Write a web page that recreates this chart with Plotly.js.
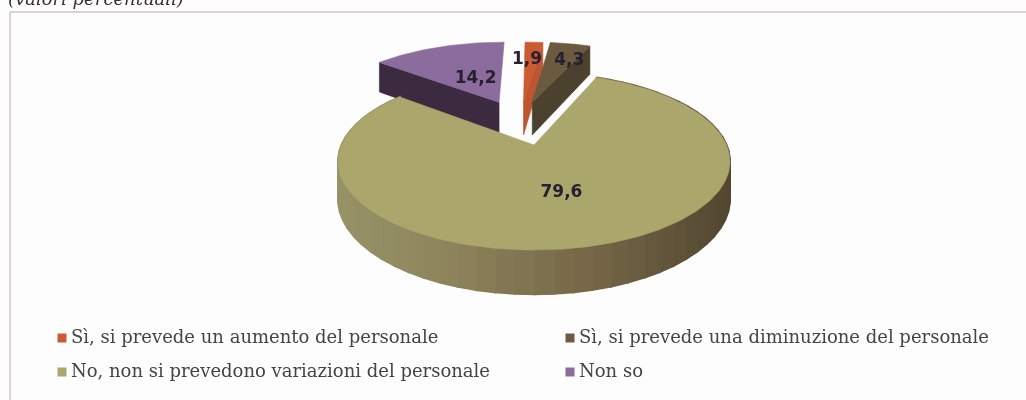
<!DOCTYPE html>
<html><head><meta charset="utf-8">
<script src="https://cdn.plot.ly/plotly-3.0.1.min.js"></script>
<style>html,body{margin:0;padding:0;background:#fdfdfd;overflow:hidden}#c{width:1026px;height:400px;filter:blur(0.5px)}</style>
</head><body><div id="c"></div>
<script>
// Data
const categories = ["Sì, si prevede un aumento del personale","Sì, si prevede una diminuzione del personale","No, non si prevedono variazioni del personale","Non so"];
const values = [1.9, 4.3, 79.6, 14.2];
const valueLabels = ["1,9","4,3","79,6","14,2"];
const subtitle = "(valori percentuali)";
// Style
const faceColors = ["#C95C33","#695A40","#AAA66C","#8C6C9C"];
const wallColors = ["#BC5530","#4C402E","#8E8A5E","#3C2A40"];
const explodeU = [-0.06,-0.01,0,-0.2];
const explodeV = [0.55,0.55,0,0.55];
const labelRadius = [0.68,0.68,0.52,0.40];
const labelShiftX = [-4,10,0,3];
const legendX = [62,570,62,570];
const legendY = [338,338,372,372];
const wallStops = [[340,[150,146,102]],[450,[142,132,92]],[600,[115,100,70]],[731,[82,70,48]]];

// Perspective projection of the pie disc onto the pixel-ranged axes
const CX=534, CY=145, A=192.6, B=85.5, K=0.186, D=36;
const proj=(u,v,h=0)=>{const w=1+K*v;return [CX+A*u/w, CY-B*v/w+h*D/w];};
const total=values.reduce((a,b)=>a+b,0);
const ang=p=>p/total*2*Math.PI;
let acc=0;
const slices=values.map((val,i)=>{const s=ang(acc);acc+=val;return {i,s,e:ang(acc),u0:explodeU[i],v0:explodeV[i]};});
const pt=(sl,r,t,h=0)=>proj(sl.u0+r*Math.sin(t),sl.v0+r*Math.cos(t),h);
const arc=(sl,h=0)=>{const n=Math.max(6,Math.ceil((sl.e-sl.s)/0.02));const o=[];for(let k=0;k<=n;k++)o.push(pt(sl,1,sl.s+(sl.e-sl.s)*k/n,h));return o;};
const poly=(pts,color,lw=0.6)=>({type:"scatter",mode:"lines",x:[...pts.map(p=>p[0]),pts[0][0]],y:[...pts.map(p=>p[1]),pts[0][1]],fill:"toself",fillcolor:color,line:{color:color,width:lw},hoverinfo:"skip",showlegend:false});
const face=sl=>poly([pt(sl,0,0),...arc(sl)],faceColors[sl.i]);
const cutWall=(sl,t,color)=>poly([pt(sl,0,0),pt(sl,1,t),pt(sl,1,t,1),pt(sl,0,0,1)],color);
const mix=x=>{let a=wallStops[0],b=wallStops[wallStops.length-1];for(let k=0;k<wallStops.length-1;k++){if(x>=wallStops[k][0]&&x<=wallStops[k+1][0]){a=wallStops[k];b=wallStops[k+1];break;}}const f=Math.min(1,Math.max(0,(x-a[0])/(b[0]-a[0])));return "rgb("+a[1].map((c,j)=>Math.round(c+(b[1][j]-c)*f)).join(",")+")";};

const traces=[];
const [orange,brown,main,purple]=slices;
traces.push(cutWall(purple,purple.s,wallColors[3]));
traces.push(face(purple));
traces.push(cutWall(orange,orange.e,wallColors[0]));
traces.push(face(orange));
traces.push(cutWall(brown,brown.e,wallColors[1]));
traces.push(face(brown));
// main slice: shaded outer wall then top face
const wallN=60;
for(let k=0;k<wallN;k++){
  const t0=main.s+(main.e-main.s)*k/wallN,t1=main.s+(main.e-main.s)*(k+1)/wallN;
  const p=[pt(main,1,t0),pt(main,1,t1),pt(main,1,t1,1),pt(main,1,t0,1)];
  traces.push(poly(p,mix((p[0][0]+p[1][0])/2),2));
}
traces.push(face(main));
// value labels
const lp=slices.map(sl=>pt(sl,labelRadius[sl.i],(sl.s+sl.e)/2));
traces.push({type:"scatter",mode:"text",x:lp.map((p,i)=>p[0]+labelShiftX[i]),y:lp.map(p=>p[1]),text:valueLabels,textposition:"middle center",textfont:{family:"DejaVu Sans",size:17,color:"#262030",weight:700},hoverinfo:"skip",showlegend:false,cliponaxis:false});
// legend entries
categories.forEach((c,i)=>{
  traces.push({type:"scatter",mode:"markers",name:c,x:[legendX[i]],y:[legendY[i]],marker:{symbol:"square",size:9,color:faceColors[i]},hoverinfo:"skip",showlegend:false,cliponaxis:false});
  traces.push({type:"scatter",mode:"text",x:[legendX[i]+9],y:[legendY[i]],text:[c],textposition:"middle right",textfont:{family:"DejaVu Serif",size:18,color:"#444"},hoverinfo:"skip",showlegend:false,cliponaxis:false});
});
// subtitle, cut by the page top as in the reference
traces.push({type:"scatter",mode:"text",x:[8],y:[0],text:[subtitle],textposition:"middle right",textfont:{family:"DejaVu Serif",size:18,color:"#333",style:"italic"},hoverinfo:"skip",showlegend:false,cliponaxis:false});

const frame={color:"#b5adaa",width:1};
const layout={width:1026,height:400,margin:{l:0,r:0,t:0,b:0},paper_bgcolor:"#fdfdfd",plot_bgcolor:"#fdfdfd",showlegend:false,
 xaxis:{range:[0,1026],visible:false,fixedrange:true},
 yaxis:{range:[400,0],visible:false,fixedrange:true},
 shapes:[{type:"line",xref:"x",yref:"y",x0:10,x1:1026,y0:12,y1:12,line:frame,layer:"below"},
         {type:"line",xref:"x",yref:"y",x0:10,x1:10,y0:12,y1:400,line:frame,layer:"below"}]};
Plotly.newPlot("c",traces,layout,{displayModeBar:false,staticPlot:true});
</script></body></html>
